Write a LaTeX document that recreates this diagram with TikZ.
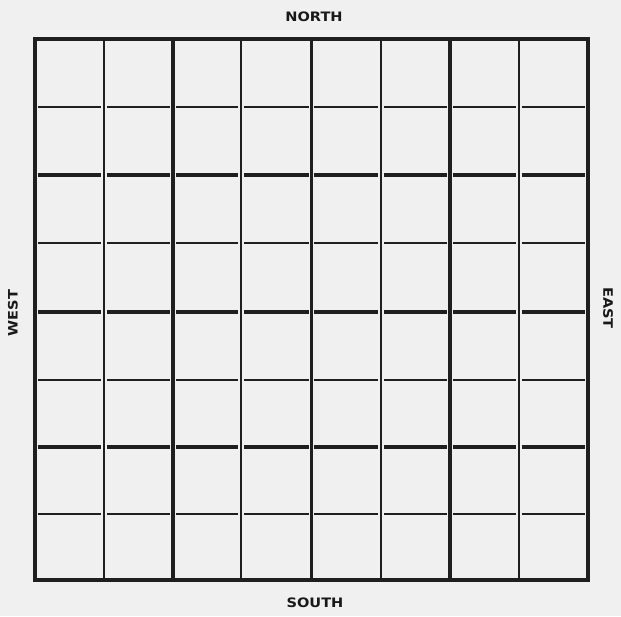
\documentclass[tikz,border=0pt]{standalone}
\usepackage{fontspec}
\setmainfont{DejaVu Sans}
\newcommand{\widelab}[1]{\scalebox{1.12}[1]{#1}}
\begin{document}
\begin{tikzpicture}[x=1pt,y=-1pt,
  lab/.style={font=\bfseries\fontsize{13}{13}\selectfont, text=black!90, inner sep=0pt},
  thinline/.style={line width=2.1pt, draw=black!88},
  thickline/.style={line width=3.1pt, draw=black!88},
  frameline/.style={line width=3.6pt, draw=black!88}]
\fill[black!6] (0,0) rectangle (621,616);
\useasboundingbox (0,0) rectangle (621,616);
% vertical lines (continuous)
\foreach \x/\w in {104/thinline,173/thickline,241/thinline,311.5/thickline,381/thinline,450/thickline,519/thinline}
  \draw[\w] (\x,39) -- (\x,580);
% horizontal lines (broken at the verticals)
\foreach \y/\w in {107/thinline,175/thickline,243/thinline,312/thickline,380/thinline,447/thickline,514/thinline}
  \foreach \a/\b in {35/104,104/173,173/241,241/311.5,311.5/381,381/450,450/519,519/588}
    \draw[\w] (\a+2.8,\y) -- (\b-2.8,\y);
% frame
\draw[frameline] (35,39) rectangle (588,580);
% labels
\node[lab] (north) at (314,17) {\widelab{NORTH}};
\node[lab] (south) at (315,603) {\widelab{SOUTH}};
\node[lab, rotate=90] (west) at (13,313) {\widelab{WEST}};
\node[lab, rotate=-90] (east) at (608,308) {\widelab{EAST}};
\end{tikzpicture}
\end{document}
